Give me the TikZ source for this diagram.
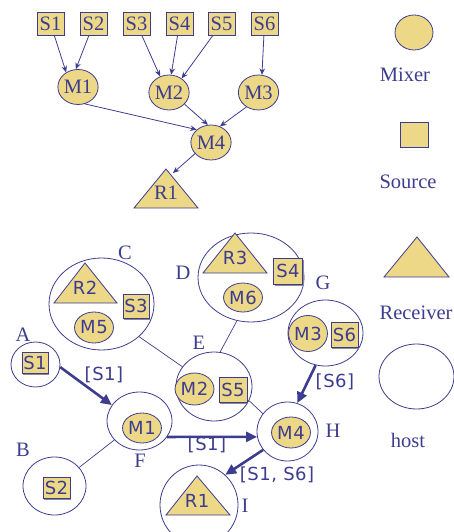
\documentclass[tikz,border=0pt]{standalone}
\usepackage{fontspec}
\setmainfont{Liberation Serif}
\newfontfamily\labsans[LetterSpace=3]{DejaVu Sans}
\usetikzlibrary{shapes.geometric,arrows.meta,shadows}
\definecolor{nav}{HTML}{3D3D8F}
\definecolor{yel}{HTML}{EDD888}
\begin{document}
\begin{tikzpicture}[x=1pt,y=-1pt,
  every node/.style={text=nav, inner sep=0pt},
  ser/.style={font=\fontsize{20.5}{20.5}\selectfont},
  san/.style={font=\labsans\fontsize{18}{18}\selectfont},
  mixer/.style={ellipse, draw=nav, fill=yel, line width=0.8pt, minimum width=38pt, minimum height=35pt},
  srcbox/.style={rectangle, draw=nav, fill=yel, line width=0.8pt, minimum width=27pt, minimum height=23pt},
  hostel/.style={ellipse, draw=nav, fill=white, line width=0.8pt},
  thinarr/.style={draw=nav, line width=0.8pt, -{Stealth[length=6.5pt,width=5.5pt]}},
  thickarr/.style={draw=nav, line width=2.6pt, -{Triangle[length=11pt,width=10pt]}},
  link/.style={draw=nav, line width=0.7pt},
  tri/.style={draw=nav, fill=yel, line width=0.8pt, line join=miter},
  shd/.style={drop shadow={shadow xshift=1.2pt, shadow yshift=-1.5pt, fill=black!45, opacity=1}}
]
\useasboundingbox (0,0) rectangle (454,532);

% ---------- top tree ----------
\foreach \n/\x in {1/50.5,2/93.5,3/136.5,4/179.5,5/221.5,6/264.5}
  \node[srcbox, ser] (s\n) at (\x,23.5) {S\n};
\node[mixer, ser] (m1) at (78,87) {M1};
\node[mixer, ser] (m2) at (169,92.5) {M2};
\node[mixer, ser] (m3) at (258.5,92.5) {M3};
\node[mixer, ser] (m4) at (211,142.5) {M4};
\draw[tri] (134,208) -- (166,169) -- (198,208) -- cycle;
\node[ser] (r1top) at (166,193) {R1};
\coordinate (r1in) at (173,173);

\draw[thinarr] (s1) -- (m1.129);
\draw[thinarr] (s2) -- (m1.97);
\draw[thinarr] (s3) -- (m2.119);
\draw[thinarr] (s4) -- (m2.83);
\draw[thinarr] (s5) -- (m2.48);
\draw[thinarr] (s6) -- (m3.79);
\draw[thinarr] (m1.-68) -- (m4.138);
\draw[thinarr] (m2.-37) -- (m4.100);
\draw[thinarr] (m3.230) -- (m4.61);
\draw[thinarr] (m4.215) -- (r1in);

% ---------- legend ----------
\node[mixer] (lgm) at (414,32.5) {};
\node[ser] (lgmt) at (405,74.5) {Mixer};
\node[srcbox, minimum width=28pt, minimum height=25pt] (lgs) at (414,134.5) {};
\node[ser] (lgst) at (408,181.5) {Source};
\draw[tri] (384,277) -- (417,237) -- (449,277) -- cycle;
\node[ser] (lgrt) at (416,312.5) {Receiver};
\node[hostel, minimum width=75pt, minimum height=65pt] (lgh) at (416.5,376.5) {};
\node[ser] (lght) at (408,440) {host};

% ---------- hosts ----------
\node[hostel, minimum width=49pt, minimum height=45pt] (A) at (35.5,364.5) {};
\node[hostel, minimum width=63pt, minimum height=58pt] (B) at (54.5,486) {};
\node[hostel, minimum width=105pt, minimum height=92pt] (C) at (101.5,304) {};
\node[hostel, minimum width=106pt, minimum height=89pt] (D) at (251,277.5) {};
\node[hostel, minimum width=76pt, minimum height=69pt] (E) at (214,386.5) {};
\node[hostel, minimum width=65pt, minimum height=58pt] (F) at (139.5,421) {};
\node[hostel, minimum width=75pt, minimum height=66pt] (G) at (325.5,333) {};
\node[hostel, minimum width=61pt, minimum height=59pt] (H) at (287.5,431.5) {};
\node[hostel, minimum width=78pt, minimum height=80pt] (I) at (199,505) {};

\node[ser] (lA) at (23,335) {A};
\node[ser] (lB) at (23,450) {B};
\node[ser] (lC) at (125,253) {C};
\node[ser] (lD) at (183,273) {D};
\node[ser] (lE) at (199,343) {E};
\node[ser] (lF) at (140,461) {F};
\node[ser] (lG) at (323,283) {G};
\node[ser] (lH) at (333,431) {H};
\node[ser] (lI) at (245,506) {I};

% links
\draw[link] (C.-41) -- (E.148);
\draw[link] (D.252) -- (E.80);
\draw[link] (E.-22) -- (H.144);
\draw[link] (F.217) -- (B.37);

% contents
\node[srcbox, san, shd, minimum width=26pt, minimum height=21pt] (aS1) at (35,362.5) {S1};
\node[srcbox, san, shd, minimum width=27pt, minimum height=21pt] (bS2) at (56.5,487.5) {S2};
\draw[tri] (54,303) -- (85,263) -- (117,303) -- cycle;
\node[san] (cR2) at (85,288) {R2};
\node[srcbox, san, shd, minimum width=26pt, minimum height=24pt] (cS3) at (136,306) {S3};
\node[mixer, san, minimum width=38pt, minimum height=31pt] (cM5) at (94,327.5) {M5};
\draw[tri] (203,273) -- (235,233) -- (267,273) -- cycle;
\node[san] (dR3) at (235,258) {R3};
\node[srcbox, san, shd, minimum width=29pt, minimum height=26pt] (dS4) at (288,271) {S4};
\node[mixer, san, minimum width=38pt, minimum height=29pt] (dM6) at (243,297.5) {M6};
\node[mixer, san, minimum width=37pt, minimum height=32pt] (eM2) at (194.5,389) {M2};
\node[srcbox, san, shd, minimum width=28pt, minimum height=25pt] (eS5) at (233,389.5) {S5};
\node[mixer, san, minimum width=38pt, minimum height=30pt] (fM1) at (142,428) {M1};
\node[mixer, san, minimum width=38pt, minimum height=36pt] (gM3) at (308,333.5) {M3};
\node[srcbox, san, shd, minimum width=27pt, minimum height=25pt] (gS6) at (344.5,334.5) {S6};
\node[mixer, san, minimum width=38pt, minimum height=31pt] (hM4) at (291,432.5) {M4};
\draw[tri] (166,515) -- (197,476) -- (230,515) -- cycle;
\node[san] (iR1) at (197,501) {R1};

% flows
\draw[thickarr] (A.-6) -- (F.150);
\draw[thickarr] (F.-30.6) -- (H.190.4);
\draw[thickarr] (G.253) -- (H.71.6);
\draw[thickarr] (H.217.7) -- (I.49);
\node[san] (f1) at (104,375) {[S1]};
\node[san] (f2) at (207,445) {[S1]};
\node[san] (f3) at (335,381.5) {[S6]};
\node[san] (f4) at (277,475) {[S1, S6]};
\end{tikzpicture}
\end{document}
